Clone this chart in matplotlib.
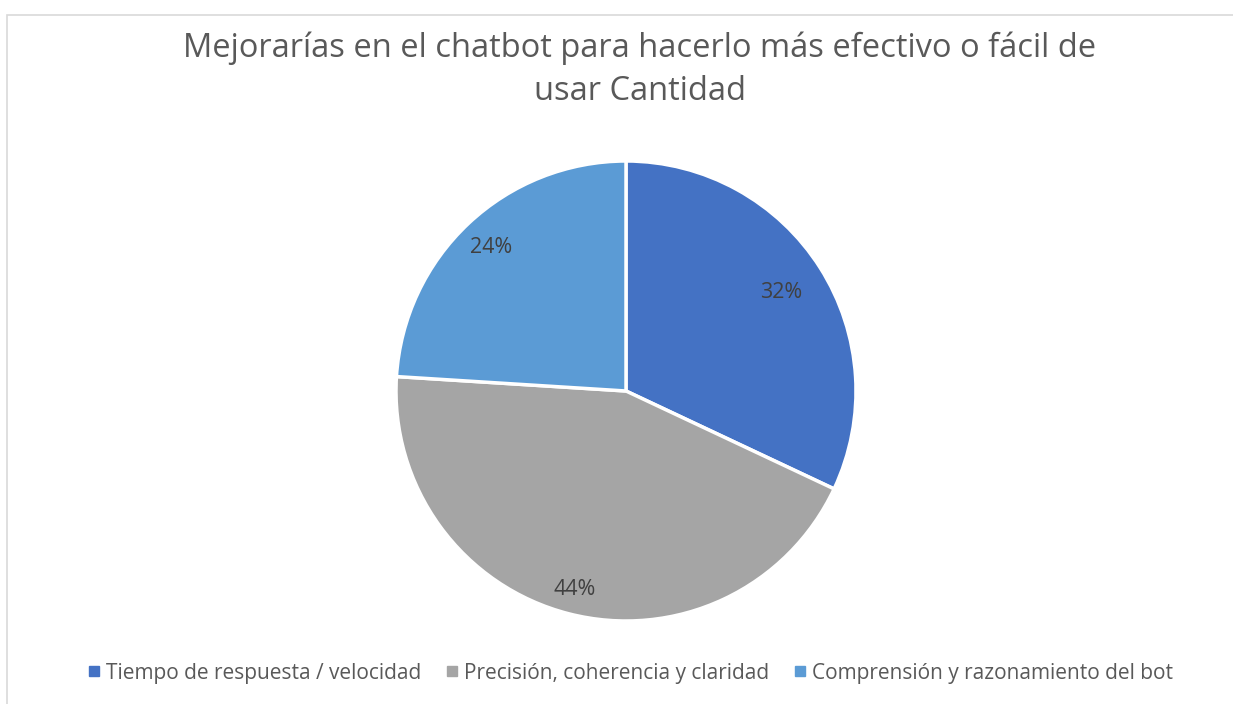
import numpy as np
import matplotlib.pyplot as plt
from matplotlib.lines import Line2D
from matplotlib.patches import Rectangle

categorias = ["Tiempo de respuesta / velocidad",
              "Precisión, coherencia y claridad",
              "Comprensión y razonamiento del bot"]
valores = [32, 44, 24]
colores = ["#4472C4", "#A5A5A5", "#5B9BD5"]
titulo = "Mejorarías en el chatbot para hacerlo más efectivo o fácil de\nusar Cantidad"

plt.rcParams['font.family'] = ['Open Sans', 'DejaVu Sans']

W, H = 1233, 704
fig = plt.figure(figsize=(W / 100, H / 100), dpi=100)

# marco del gráfico
fig.patches.append(Rectangle((7 / W, -0.1), 1.2, 1 - 15 / H + 0.1,
                             transform=fig.transFigure, fill=False,
                             edgecolor="#D9D9D9", linewidth=1.2))

cx, cy, r = 626, 391, 230
ax = fig.add_axes([(cx - r) / W, (H - cy - r) / H, 2 * r / W, 2 * r / H])
wedges, textos, pcts = ax.pie(valores, colors=colores, startangle=90,
                              counterclock=False, radius=1,
                              autopct='%1.0f%%', pctdistance=0.85,
                              wedgeprops=dict(edgecolor='white', linewidth=2.5),
                              textprops=dict(color='#404040', fontsize=15.5))
ax.set_xlim(-1, 1)
ax.set_ylim(-1, 1)
ax.set_aspect('equal')

# posición de etiquetas como en Excel
dist = [0.80, 0.89, 0.855]
for w, t, d in zip(wedges, pcts, dist):
    ang = np.deg2rad((w.theta1 + w.theta2) / 2)
    t.set_position((d * np.cos(ang), d * np.sin(ang)))

fig.text(640 / W, 1 - 70 / H, titulo, ha='center', va='center',
         fontsize=23.5, color='#595959', linespacing=1.42)

handles = [Line2D([], [], marker='s', linestyle='none', markersize=6.5,
                  markerfacecolor=c, markeredgecolor=c) for c in colores]
fig.legend(handles, categorias, loc='center', ncol=3,
           bbox_to_anchor=(631 / W, 1 - 673 / H), frameon=False,
           fontsize=15, labelcolor='#595959', handletextpad=0.35,
           columnspacing=1.2, handlelength=0.5)

fig.savefig("out.png", dpi=100)
